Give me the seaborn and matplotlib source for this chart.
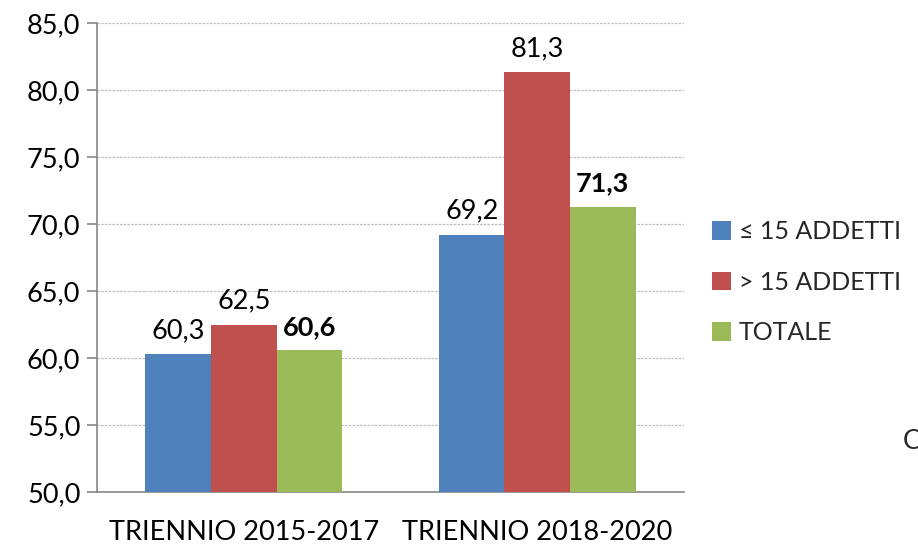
import pandas as pd
import numpy as np
import matplotlib.pyplot as plt
import seaborn as sns

# data
periods = ['TRIENNIO 2015-2017', 'TRIENNIO 2018-2020']
groups = ['≤ 15 ADDETTI', '> 15 ADDETTI', 'TOTALE']
small_firms = [60.3, 69.2]
large_firms = [62.5, 81.3]
total = [60.6, 71.3]
colors = ['#4F81BD', '#C0504D', '#9BBB59']

df = pd.DataFrame({
    'periodo': periods * 3,
    'gruppo': np.repeat(groups, len(periods)),
    'valore': small_firms + large_firms + total,
})

sns.set_style('white')
plt.rcParams['font.family'] = ['Lato', 'DejaVu Sans']
fs = 19.5

fig = plt.figure(figsize=(9.18, 5.45), dpi=100)
ax = fig.add_axes([0.1057, 0.097, 0.6394, 0.861])

sns.barplot(data=df, x='periodo', y='valore', hue='gruppo', palette=colors,
            width=0.67, gap=0, saturation=1, linewidth=0, ax=ax, zorder=3)

ax.set_ylim(50, 85)
ax.set_xlim(-0.5, 1.5)
ax.set_yticks(np.arange(50, 86, 5))
ax.set_yticklabels([f'{v:.1f}'.replace('.', ',') for v in np.arange(50, 86, 5)], fontsize=fs, color='black')
ax.set_xticks([0, 1])
ax.set_xticklabels(periods, fontsize=fs, color='black')
ax.tick_params(axis='x', which='major', length=0, pad=20)
ax.set_xticks([-0.5, 0.5, 1.5], minor=True)
ax.tick_params(axis='x', which='minor', length=8, color='#868686', width=1.2)
ax.tick_params(axis='y', length=7, color='#868686', width=1.2, left=True, pad=5)
ax.set_xlabel('')
ax.set_ylabel('')

ax.grid(axis='y', linestyle=(0, (2, 1)), color='#BFBFBF', linewidth=0.9, zorder=0)
for s in ['top', 'right']:
    ax.spines[s].set_visible(False)
for s in ['left', 'bottom']:
    ax.spines[s].set_color('#868686')
    ax.spines[s].set_linewidth(1.2)

for i, cont in enumerate(ax.containers):
    labels = [f'{b.get_height():.1f}'.replace('.', ',') for b in cont]
    ax.bar_label(cont, labels=labels, padding=8, fontsize=fs, color='black',
                 fontweight='bold' if i == 2 else 'normal')

ax.legend(loc='center left', bbox_to_anchor=(0.776, 0.482), bbox_transform=fig.transFigure,
          frameon=False, fontsize=18, handlelength=0.75, handleheight=0.75,
          handletextpad=0.3, labelspacing=1.1, borderaxespad=0, borderpad=0)

fig.text(0.983, 0.19, 'C', fontsize=fs, ha='left', va='center')

fig.savefig('out.png', dpi=100)
